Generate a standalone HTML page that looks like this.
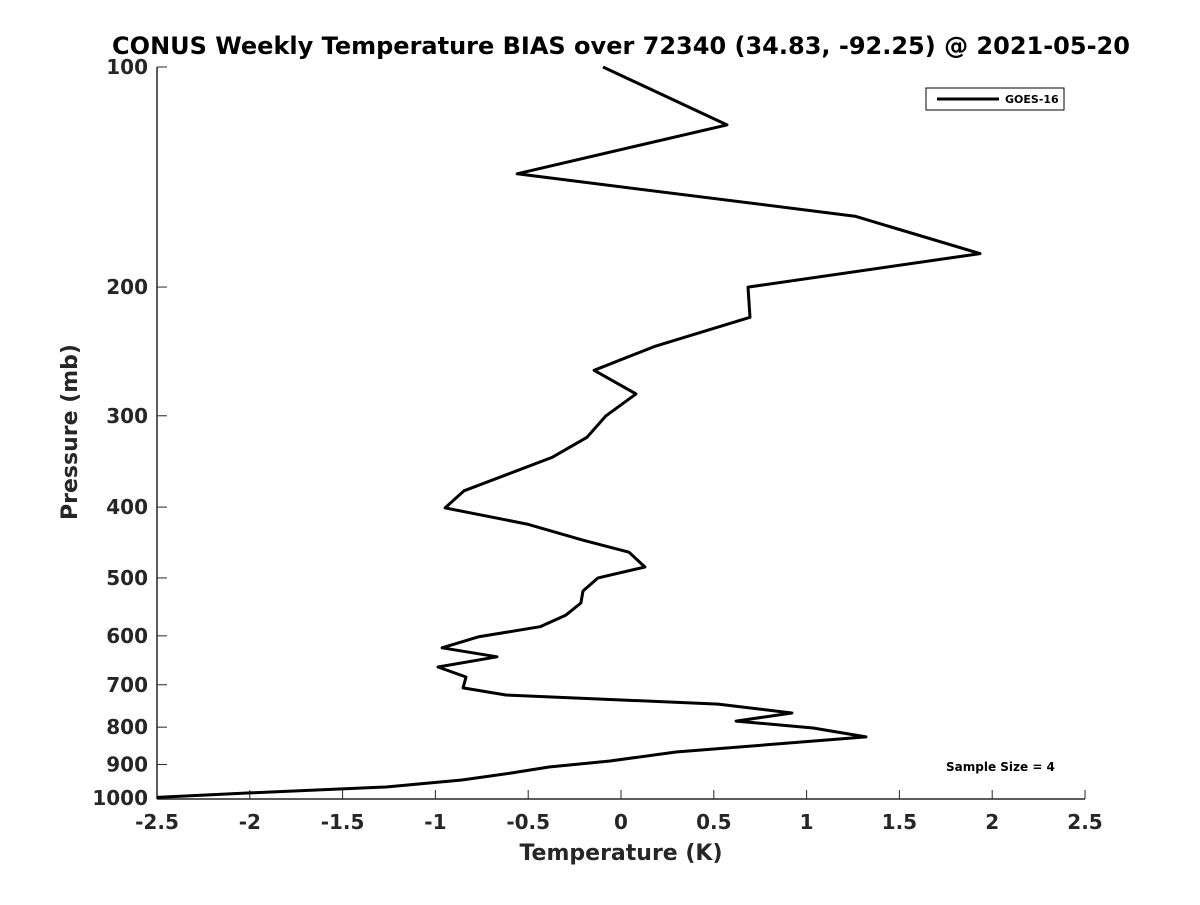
<!DOCTYPE html>
<html><head><meta charset="utf-8"><style>
body{margin:0;background:#fff}
svg text{font-family:"DejaVu Sans","Liberation Sans",sans-serif;font-weight:bold;fill:#262626}
</style></head><body>
<svg id="chart" width="1200" height="900" xmlns="http://www.w3.org/2000/svg">
<rect width="1200" height="900" fill="#fff"/>
<text x="621" y="54" text-anchor="middle" font-size="24" style="fill:#000">CONUS Weekly Temperature BIAS over 72340 (34.83, -92.25) @ 2021-05-20</text>
<g id="axes"></g>
<polyline id="series" fill="none" stroke="#000" stroke-width="3" stroke-linejoin="round"/>
<g>
<rect x="926" y="88" width="138" height="22" fill="#fff" stroke="#000" stroke-width="1"/>
<line x1="937" y1="99" x2="999" y2="99" stroke="#000" stroke-width="3"/>
<text x="1005" y="103" font-size="11" style="fill:#000">GOES-16</text>
</g>
<text x="946" y="771" font-size="12" style="fill:#000">Sample Size = 4</text>
<text x="621" y="860" text-anchor="middle" font-size="22">Temperature (K)</text>
<text transform="translate(77,432) rotate(-90)" text-anchor="middle" font-size="22">Pressure (mb)</text>
</svg>
<script>
const pressures=[100,120,140,160,180,200,220,241,260,280,300,321,342,380,401,422,444,461,483,500,521,541,562,583,602,623,641,662,683,707,723,744,765,785,802,825,865,890,907,924,945,966,984,998];
const bias=[-0.097,0.571,-0.56,1.261,1.934,0.684,0.695,0.183,-0.145,0.081,-0.081,-0.183,-0.372,-0.846,-0.948,-0.506,-0.205,0.043,0.129,-0.124,-0.205,-0.216,-0.297,-0.436,-0.77,-0.964,-0.668,-0.986,-0.835,-0.851,-0.62,0.523,0.921,0.62,1.035,1.32,0.296,-0.059,-0.388,-0.587,-0.857,-1.266,-1.999,-2.5];
const xTicks=[-2.5,-2,-1.5,-1,-0.5,0,0.5,1,1.5,2,2.5];
const xTickLabels=["-2.5","-2","-1.5","-1","-0.5","0","0.5","1","1.5","2","2.5"];
const yTicks=[100,200,300,400,500,600,700,800,900,1000];
const L=157,R=1085,T=67,B=798;
const xs=v=>L+(v+2.5)/5*(R-L);
const ys=p=>T+(Math.log10(p)-2)*(B-T);
const NS="http://www.w3.org/2000/svg";
const ax=document.getElementById('axes');
function mk(t,a,txt){const e=document.createElementNS(NS,t);for(const k in a)e.setAttribute(k,a[k]);if(txt!==undefined)e.textContent=txt;ax.appendChild(e);return e;}
let e=mk('line',{x1:L,y1:T,x2:L,y2:B+1,stroke:'#262626','stroke-width':1.5});


e=mk('line',{x1:L,y1:B+1,x2:R,y2:B+1,stroke:'#262626','stroke-width':1.5});


xTicks.forEach((v,i)=>{const x=xs(v);
 let t=mk('line',{x1:x,y1:B+1,x2:x,y2:B-8,stroke:'#262626','stroke-width':1});
 
 
 let l=mk('text',{x:x,y:829,'text-anchor':'middle','font-size':20},xTickLabels[i]);
 
 
});
yTicks.forEach(p=>{const y=ys(p);
 let t=mk('line',{x1:L,y1:y,x2:L+10,y2:y,stroke:'#262626','stroke-width':1});
 
 
 let l=mk('text',{x:148,y:y+7,'text-anchor':'end','font-size':20},String(p));
 
 
});
document.getElementById('series').setAttribute('points',pressures.map((p,i)=>xs(bias[i]).toFixed(1)+','+ys(p).toFixed(1)).join(' '));
</script>
</body></html>
